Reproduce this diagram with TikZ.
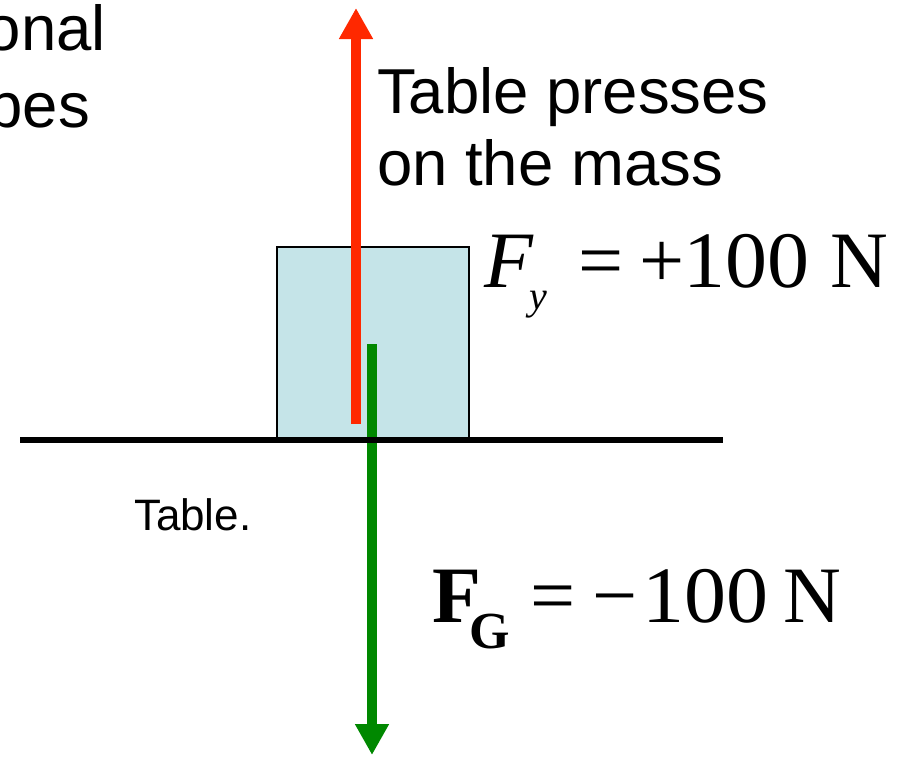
\documentclass[tikz,border=0pt]{standalone}
\usepackage{fontspec}
\setmainfont{Liberation Sans}
\newfontfamily\serifm{Liberation Serif}
\usetikzlibrary{arrows.meta}
\definecolor{forcered}{RGB}{255,40,0}
\definecolor{forcegreen}{RGB}{0,136,0}
\definecolor{boxblue}{RGB}{197,228,232}
\tikzset{
  lbl/.style={inner sep=0pt, outer sep=0pt, font=\fontsize{63.5}{63.5}\selectfont},
  small/.style={inner sep=0pt, outer sep=0pt, font=\fontsize{44}{44}\selectfont},
  eq/.style={inner sep=0pt, outer sep=0pt, anchor=base, font=\serifm\fontsize{80}{80}\selectfont},
  eqsub/.style={inner sep=0pt, outer sep=0pt, anchor=base, font=\serifm\fontsize{40}{40}\selectfont},
  eqsubG/.style={inner sep=0pt, outer sep=0pt, anchor=base, font=\serifm\bfseries\fontsize{52}{52}\selectfont},
  force/.style={line width=10.5pt, -{Triangle[width=32pt,length=31pt]}},
}
\begin{document}
\begin{tikzpicture}[x=1pt,y=-1pt]
\clip (0,0) rectangle (905,756);
% cut-off text at top left
\node[lbl, anchor=base east] (t1) at (106,50) {onal};
\node[lbl, anchor=base east] (t2) at (90,127) {bes};
% mass block
\node[draw=black, line width=2pt, fill=boxblue, minimum width=192pt, minimum height=192pt, inner sep=0pt, anchor=south west] (mass) at (276,440) {};
% red force (table on mass)
\coordinate (rb) at (356,424);
\coordinate (rt) at (356,8);
\draw[force, forcered] (rb) -- (rt);
% green force (gravity)
\coordinate (gt) at (372,344);
\coordinate (gb) at (372,755);
\draw[force, forcegreen] (gt) -- (gb);
% table surface
\coordinate (tl) at (20,440);
\coordinate (tr) at (723,440);
\draw[line width=5.5pt] (tl) -- (tr);
% labels
\node[lbl, anchor=base west] (p1) at (377,113) {Table presses};
\node[lbl, anchor=base west] (p2) at (377,185) {on the mass};
\node[small, anchor=base west] (tab) at (134,530) {Table.};
% F_y = +100 N
\node[eq] (fy) at (509,287) {\itshape F};
\node[eqsub] (fys) at (538,309) {\itshape y};
\node[eq] (fyeq) at (601,287) {=};
\node[eq] (fypl) at (662,287) {+};
\node[eq, xscale=1.05] (fyn) at (746,287) {100};
\node[eq] (fyu) at (859,287) {N};
% F_G = -100 N
\node[eq, font=\serifm\bfseries\fontsize{80}{80}\selectfont] (fg) at (457,622) {F};
\node[eqsub, font=\serifm\bfseries\fontsize{52}{52}\selectfont] (fgs) at (490,648) {G};
\node[eq] (fgeq) at (553,622) {=};
\node[eq] (fgmi) at (615,622) {−};
\node[eq, xscale=1.05] (fgn) at (705,622) {100};
\node[eq] (fgu) at (812,622) {N};
\end{tikzpicture}
\end{document}
